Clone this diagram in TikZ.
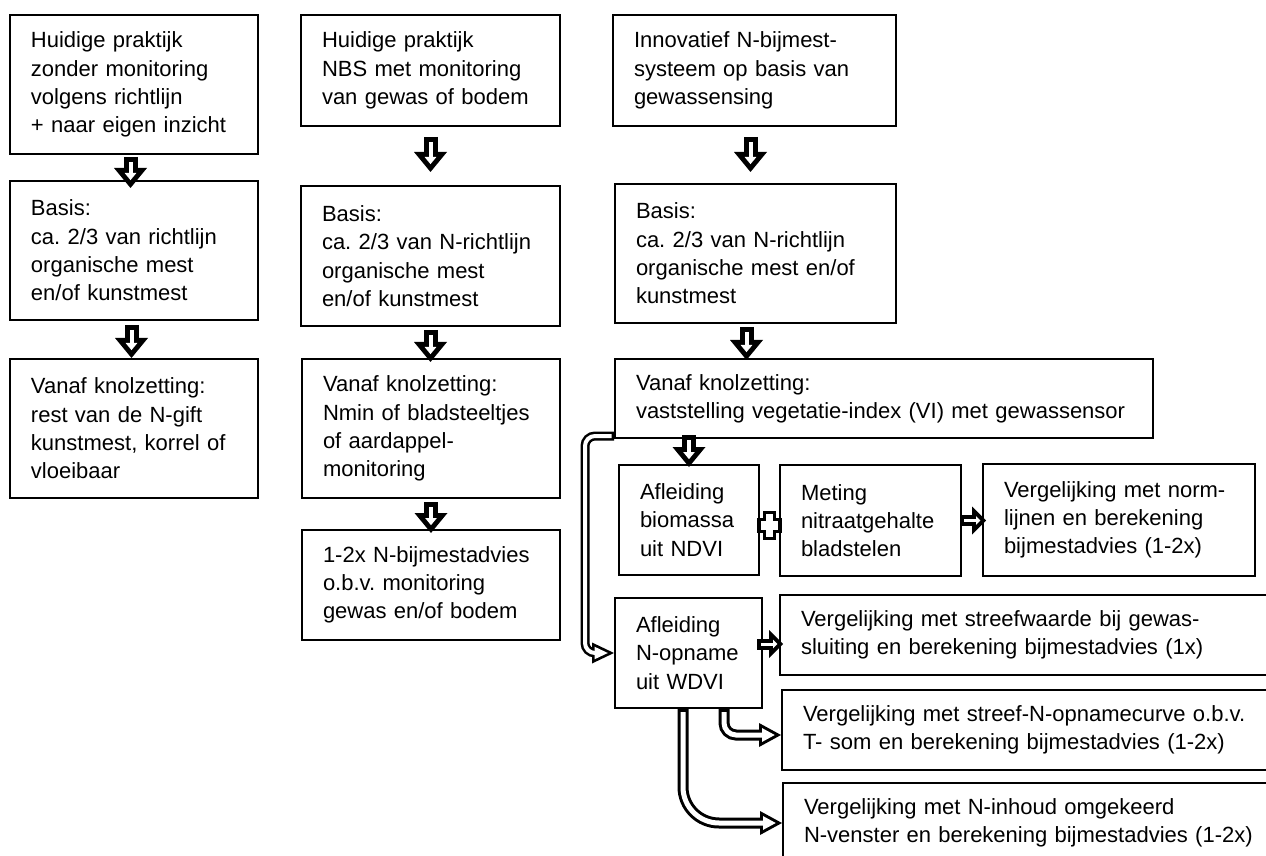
\documentclass[tikz,border=0pt]{standalone}
\usepackage{fontspec}
\setmainfont{Liberation Sans}
\usetikzlibrary{arrows.meta, calc}

% hollow arrow: black outer pass, white inner pass
\newcommand{\hollow}[2]{%
  \draw[#1out] #2;
  \draw[#1in] #2;
}

\begin{document}
\begin{tikzpicture}[
        x=0.5pt, y=-0.5pt,
        box/.style={rectangle, draw, line width=1pt, anchor=north west, align=left, inner xsep=10.5pt, inner ysep=0pt, font=\fontsize{11pt}{14.15pt}\selectfont\frenchspacing},
        blkout/.style={line width=7pt, -{Triangle[length=10pt, width=16.5pt, line width=0pt]}},
        blkin/.style={white, line width=2pt, shorten <=2.5pt, shorten >=3.93pt, -{Triangle[length=3.57pt, width=5.9pt, line width=0pt]}},
        smlout/.style={line width=5.5pt, -{Triangle[length=7pt, width=14pt, line width=0pt]}},
        smlin/.style={white, line width=1.5pt, shorten <=2pt, shorten >=2.83pt, -{Triangle[length=2.17pt, width=4.34pt, line width=0pt]}},
        dblout/.style={line width=4.5pt, -{Triangle[length=11pt, width=10.5pt, line width=0pt]}},
        dblin/.style={white, line width=2pt, shorten <=1.25pt, shorten >=3.1pt, -{Triangle[length=6.65pt, width=6.3pt, line width=0pt]}},
        dblwout/.style={line width=5.5pt, -{Triangle[length=11pt, width=12pt, line width=0pt]}},
        dblwin/.style={white, line width=2.5pt, shorten <=1.5pt, shorten >=3.13pt, -{Triangle[length=6.37pt, width=6.95pt, line width=0pt]}},
        plusmark/.style={line width=1.6pt, fill=white}
    ]
    \path[use as bounding box] (0,0) rectangle (1266,856);
    \clip (0,0) rectangle (1266,856);

    % Column 1 - current practice
    \node[box, text width=103pt, minimum height=69.5pt] (a1) at (9,14) {Huidige praktijk\\zonder monitoring\\volgens richtlijn\\+ naar eigen inzicht};
    \node[box, text width=103pt, minimum height=69.5pt] (a2) at (9,180) {Basis:\\ca. 2/3 van richtlijn\\organische mest\\en/of kunstmest};
    \node[box, text width=103pt, minimum height=69.5pt] (a3) at (9,358) {Vanaf knolzetting:\\rest van de N-gift\\kunstmest, korrel of\\vloeibaar};

    % Column 2 - NBS with monitoring
    \node[box, text width=108.5pt, minimum height=55.5pt] (b1) at (300,14) {Huidige praktijk\\NBS met monitoring\\van gewas of bodem};
    \node[box, text width=108.5pt, minimum height=70pt] (b2) at (300,185) {Basis:\\ca. 2/3 van N-richtlijn\\organische mest\\en/of kunstmest};
    \node[box, text width=108pt, minimum height=69.5pt] (b3) at (301,358) {Vanaf knolzetting:\\Nmin of bladsteeltjes\\of aardappel-\\monitoring};
    \node[box, text width=108pt, minimum height=55pt] (b4) at (301,529) {1-2x N-bijmestadvies\\o.b.v. monitoring\\gewas en/of bodem};

    % Column 3 - crop sensing
    \node[box, text width=120.5pt, minimum height=55.5pt] (c1) at (612,14) {Innovatief N-bijmest-\\systeem op basis van\\gewassensing};
    \node[box, text width=119.5pt, minimum height=69.5pt] (c2) at (614,183) {Basis:\\ca. 2/3 van N-richtlijn\\organische mest en/of\\kunstmest};
    \node[box, text width=248pt, minimum height=39.5pt] (c3) at (614,358) {Vanaf knolzetting:\\vaststelling vegetatie-index (VI) met gewassensor};

    % NDVI branch
    \node[box, text width=49pt, minimum height=55pt] (d1) at (618,464) {Afleiding\\biomassa\\uit NDVI};
    \node[box, text width=69.5pt, minimum height=55.5pt] (d2) at (779,464) {Meting\\nitraatgehalte\\bladstelen};
    \node[box, text width=115pt, minimum height=56pt] (d3) at (982,463) {Vergelijking met norm-\\lijnen en berekening\\bijmestadvies (1-2x)};

    % WDVI branch
    \node[box, text width=52.5pt, minimum height=55pt] (e1) at (614,597) {Afleiding\\N-opname\\uit WDVI};
    \node[box, text width=234.5pt, minimum height=40pt] (f1) at (779,594) {Vergelijking met streefwaarde bij gewas-\\sluiting en berekening bijmestadvies (1x)};
    \node[box, text width=233.5pt, minimum height=40pt] (f2) at (781,689) {Vergelijking met streef-N-opnamecurve o.b.v.\\T- som en berekening bijmestadvies (1-2x)};
    \node[box, text width=233pt, minimum height=40pt] (f3) at (782,782) {Vergelijking met N-inhoud omgekeerd\\N-venster en berekening bijmestadvies (1-2x)};

    % Block arrows
    \hollow{blk}{([xshift=-1.75pt,yshift=-1pt]a1.south) -- ([xshift=-1.75pt,yshift=-4pt]a2.north)}
    \hollow{blk}{([xshift=-1.25pt,yshift=-2pt]a2.south) -- ([xshift=-1.25pt]a3.north)}
    \hollow{blk}{([yshift=-5pt]b1.south) -- ([yshift=6.5pt]b2.north)}
    \hollow{blk}{([yshift=-1.5pt]b2.south) -- ($(b2.south |- b3.north)+(0,-2pt)$)}
    \hollow{blk}{([yshift=-1.5pt]b3.south) -- ([yshift=-2pt]b4.north)}
    \hollow{blk}{([xshift=-2pt,yshift=-5pt]c1.south) -- ($(c1.south |- c2.north)+(-2pt,5.5pt)$)}
    \hollow{blk}{([xshift=-4.5pt,yshift=-1.5pt]c2.south) -- ($(c2.south |- c3.north)+(-4.5pt,-1pt)$)}
    \hollow{blk}{($(c3.south -| d1.north)+(0,2pt)$) -- ([yshift=-1.5pt]d1.north)}
    \hollow{sml}{([xshift=-1pt]d2.east) -- ($(d2.east -| d3.west)+(2pt,0)$)}
    \hollow{sml}{($(e1.east)+(-3pt,4.5pt)$) -- ($(e1.east -| f1.west)+(2pt,4.5pt)$)}

    % Plus between biomassa and nitraat
    \draw[plusmark, shift={($(d1.east)!.5!(d2.west)+(0,-2.5pt)$)}] (-5.25pt,3pt) -- (-2.5pt,3pt) -- (-2.5pt,6.5pt) -- (2.5pt,6.5pt) -- (2.5pt,3pt) -- (5.25pt,3pt) -- (5.25pt,-3pt) -- (2.5pt,-3pt) -- (2.5pt,-6.5pt) -- (-2.5pt,-6.5pt) -- (-2.5pt,-3pt) -- (-5.25pt,-3pt) -- cycle;

    % Double line arrows
    \hollow{dbl}{([yshift=1.5pt]c3.south west) [rounded corners=5pt] -- ++(-14.5pt,0) |- (e1.west)}
    \hollow{dblw}{([xshift=-19.5pt]e1.south east) [rounded corners=6pt] |- ($(f2.west)+(0,-2.5pt)$)}
    \hollow{dblw}{([xshift=-40pt]e1.south east) [rounded corners=18pt] |- (f3.west)}

\end{tikzpicture}
\end{document}
